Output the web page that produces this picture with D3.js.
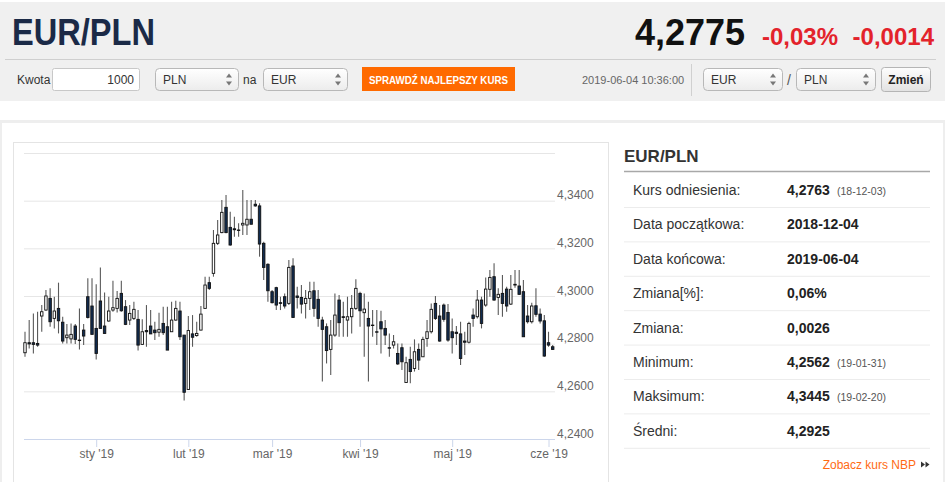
<!DOCTYPE html>
<html>
<head>
<meta charset="utf-8">
<script src="https://d3js.org/d3.v7.min.js"></script>
<style>
  body { margin: 0; background: #fff; }
  svg { display: block; font-family: "Liberation Sans", Arial, sans-serif; }
</style>
</head>
<body>
<svg id="page"></svg>
<script>
// trading days shown on the chart (ordinal axis, no weekends / holidays)
const dates = [
  "2018-12-04","2018-12-05","2018-12-06","2018-12-07","2018-12-10","2018-12-11","2018-12-12","2018-12-13","2018-12-14",
  "2018-12-17","2018-12-18","2018-12-19","2018-12-20","2018-12-21","2018-12-27","2018-12-28","2018-12-31",
  "2019-01-02","2019-01-03","2019-01-04","2019-01-07","2019-01-08","2019-01-09","2019-01-10","2019-01-11",
  "2019-01-14","2019-01-15","2019-01-16","2019-01-17","2019-01-18","2019-01-21","2019-01-22","2019-01-23",
  "2019-01-24","2019-01-25","2019-01-28","2019-01-29","2019-01-30","2019-01-31",
  "2019-02-01","2019-02-04","2019-02-05","2019-02-06","2019-02-07","2019-02-08","2019-02-11","2019-02-12",
  "2019-02-13","2019-02-14","2019-02-15","2019-02-18","2019-02-19","2019-02-20","2019-02-21","2019-02-22",
  "2019-02-25","2019-02-26","2019-02-27","2019-02-28",
  "2019-03-01","2019-03-04","2019-03-05","2019-03-06","2019-03-07","2019-03-08","2019-03-11","2019-03-12",
  "2019-03-13","2019-03-14","2019-03-15","2019-03-18","2019-03-19","2019-03-20","2019-03-21","2019-03-22",
  "2019-03-25","2019-03-26","2019-03-27","2019-03-28","2019-03-29",
  "2019-04-01","2019-04-02","2019-04-03","2019-04-04","2019-04-05","2019-04-08","2019-04-09","2019-04-10",
  "2019-04-11","2019-04-12","2019-04-15","2019-04-16","2019-04-17","2019-04-18","2019-04-19","2019-04-22",
  "2019-04-23","2019-04-24","2019-04-25","2019-04-26","2019-04-29","2019-04-30",
  "2019-05-01","2019-05-02","2019-05-03","2019-05-06","2019-05-07","2019-05-08","2019-05-09","2019-05-10",
  "2019-05-13","2019-05-14","2019-05-15","2019-05-16","2019-05-17","2019-05-20","2019-05-21","2019-05-22",
  "2019-05-23","2019-05-24","2019-05-27","2019-05-28","2019-05-29","2019-05-30","2019-05-31",
  "2019-06-03","2019-06-04"
];

const open = [
  4.2762,4.2804,4.2804,4.2801,4.2916,4.2941,4.2990,4.2906,4.2948,4.2890,4.2825,4.2820,4.2874,4.2815,4.2857,4.2997,4.2958,
  4.2864,4.2979,4.2874,4.2895,4.2941,4.2948,4.3011,4.2955,4.2899,4.2906,4.2902,4.2797,4.2855,4.2874,4.2857,4.2848,4.2885,
  4.2871,4.2850,4.2899,4.2937,4.2836,
  4.2608,4.2841,4.2834,4.2857,4.2948,4.3056,4.3095,4.3221,4.3266,4.3372,4.3288,4.3282,4.3277,4.3298,4.3298,4.3322,4.3385,
  4.3378,4.3221,4.3133,
  4.3018,4.3035,4.2972,4.2997,4.2969,4.3126,4.3000,4.2994,4.2969,4.2990,4.3022,4.2986,4.2899,4.2871,4.2776,4.2836,4.2983,
  4.2913,4.2899,4.2913,4.2948,
  4.3011,4.2930,4.2906,4.2878,4.2850,4.2892,4.2864,4.2783,4.2794,4.2759,4.2783,4.2637,4.2734,4.2696,4.2776,4.2745,4.2822,
  4.2850,4.2969,4.2916,4.2962,4.2931,
  4.2850,4.2848,4.2841,4.2811,4.2806,4.2920,4.2913,4.2983,4.2962,4.3028,4.3081,4.2994,4.3011,4.3029,4.2966,4.3049,4.3042,
  4.3018,4.2916,4.2892,4.2959,4.2924,4.2896,
  4.2804,4.2787
];

const high = [
  4.2850,4.2899,4.2927,4.2934,4.2962,4.3025,4.3032,4.2997,4.3056,4.2913,4.2883,4.2885,4.2883,4.2948,4.2883,4.3074,4.3074,
  4.3049,4.3120,4.3015,4.2997,4.3064,4.3021,4.3064,4.2983,4.2962,4.2976,4.2941,4.2902,4.2962,4.2941,4.2892,4.2930,4.2955,
  4.2955,4.2976,4.2980,4.2976,4.2836,
  4.2916,4.2920,4.2892,4.2958,4.3081,4.3081,4.3277,4.3319,4.3403,4.3424,4.3354,4.3333,4.3305,4.3445,4.3403,4.3403,4.3403,
  4.3389,4.3228,4.3137,
  4.3025,4.3039,4.2997,4.3011,4.3151,4.3158,4.3039,4.3046,4.3025,4.3060,4.3060,4.3025,4.2913,4.2885,4.2899,4.3011,4.3004,
  4.2976,4.2997,4.3004,4.3070,
  4.3018,4.3011,4.2976,4.2941,4.2941,4.2938,4.2899,4.2843,4.2836,4.2801,4.2801,4.2745,4.2787,4.2818,4.2801,4.2829,4.2899,
  4.2969,4.3000,4.2962,4.2969,4.2966,
  4.2906,4.2874,4.2892,4.2850,4.2892,4.2948,4.3025,4.2997,4.3078,4.3109,4.3137,4.3032,4.3088,4.3039,4.3088,4.3109,4.3109,
  4.3067,4.2962,4.2972,4.3032,4.2948,4.2920,
  4.2850,4.2794
];

const low = [
  4.2745,4.2780,4.2759,4.2787,4.2850,4.2938,4.2871,4.2864,4.2843,4.2801,4.2801,4.2801,4.2799,4.2776,4.2794,4.2906,4.2839,
  4.2734,4.2864,4.2843,4.2892,4.2934,4.2931,4.2934,4.2878,4.2878,4.2899,4.2771,4.2794,4.2787,4.2841,4.2815,4.2829,4.2836,
  4.2773,4.2850,4.2896,4.2815,4.2562,
  4.2606,4.2787,4.2829,4.2855,4.2948,4.3025,4.3081,4.3214,4.3263,4.3263,4.3211,4.3249,4.3249,4.3256,4.3256,4.3301,4.3375,
  4.3165,4.3067,4.2976,
  4.2969,4.2941,4.2941,4.2948,4.2962,4.2910,4.2948,4.2927,4.2906,4.2941,4.2913,4.2871,4.2641,4.2717,4.2669,4.2829,4.2829,
  4.2829,4.2829,4.2843,4.2941,
  4.2871,4.2745,4.2641,4.2829,4.2794,4.2759,4.2794,4.2745,4.2780,4.2710,4.2690,4.2637,4.2634,4.2683,4.2690,4.2745,4.2787,
  4.2843,4.2899,4.2808,4.2892,4.2808,
  4.2759,4.2794,4.2710,4.2752,4.2801,4.2871,4.2906,4.2864,4.2955,4.2997,4.2980,4.2920,4.2913,4.2934,4.2962,4.3035,4.3004,
  4.2829,4.2885,4.2885,4.2913,4.2885,4.2745,
  4.2787,4.2773
];

const close = [
  4.2804,4.2799,4.2797,4.2794,4.2934,4.3000,4.2892,4.2937,4.2896,4.2811,4.2836,4.2839,4.2818,4.2813,4.2832,4.2910,4.2839,
  4.2759,4.2864,4.2843,4.2937,4.2951,4.2990,4.2938,4.2881,4.2927,4.2944,4.2794,4.2850,4.2850,4.2841,4.2846,4.2860,4.2846,
  4.2773,4.2899,4.2948,4.2829,4.2596,
  4.2855,4.2827,4.2843,4.2924,4.3046,4.3032,4.3221,4.3256,4.3351,4.3266,4.3214,4.3278,4.3275,4.3305,4.3322,4.3301,4.3378,
  4.3218,4.3120,4.3022,
  4.2972,4.2962,4.2969,4.2958,4.3120,4.2910,4.2994,4.2966,4.2990,4.3018,4.2948,4.2906,4.2860,4.2771,4.2836,4.2920,4.2888,
  4.2910,4.2913,4.2948,4.3032,
  4.2938,4.2945,4.2874,4.2876,4.2848,4.2862,4.2836,4.2781,4.2808,4.2715,4.2724,4.2720,4.2683,4.2766,4.2731,4.2818,4.2850,
  4.2944,4.2906,4.2811,4.2902,4.2815,
  4.2825,4.2843,4.2738,4.2806,4.2885,4.2906,4.2983,4.2885,4.3029,4.3078,4.2983,4.3007,4.2969,4.2958,4.3028,4.3046,4.3007,
  4.2829,4.2892,4.2958,4.2923,4.2895,4.2748,
  4.2794,4.2776
];

const xTickDates = ["2019-01-02", "2019-02-01", "2019-03-01", "2019-04-01", "2019-05-01", "2019-06-03"];
const xTickLabels = ["sty '19", "lut '19", "mar '19", "kwi '19", "maj '19", "cze '19"];
const yTicks = [4.24, 4.26, 4.28, 4.30, 4.32, 4.34, 4.36];

const statLabels = ["Kurs odniesienia:", "Data początkowa:", "Data końcowa:", "Zmiana[%]:", "Zmiana:", "Minimum:", "Maksimum:", "Średni:"];
const statValues = ["4,2763", "2018-12-04", "2019-06-04", "0,06%", "0,0026", "4,2562", "4,3445", "4,2925"];
const statNotes = ["(18-12-03)", "", "", "", "", "(19-01-31)", "(19-02-20)", ""];

const pairName = "EUR/PLN";
const lastRate = "4,2775";
const changePct = "-0,03%";
const changeAbs = "-0,0014";
const quoteTime = "2019-06-04 10:36:00";

const FONT = '"Liberation Sans", Arial, sans-serif';

const svg = d3.select('#page').attr('width', 945).attr('height', 482);

const defs = svg.append('defs');
const selGrad = defs.append('linearGradient').attr('id', 'selGrad').attr('x1', 0).attr('x2', 0).attr('y1', 0).attr('y2', 1);
selGrad.append('stop').attr('offset', '0%').attr('stop-color', '#ffffff');
selGrad.append('stop').attr('offset', '100%').attr('stop-color', '#ececec');
const btnGrad = defs.append('linearGradient').attr('id', 'btnGrad').attr('x1', 0).attr('x2', 0).attr('y1', 0).attr('y2', 1);
btnGrad.append('stop').attr('offset', '0%').attr('stop-color', '#fdfdfd');
btnGrad.append('stop').attr('offset', '100%').attr('stop-color', '#e2e2e2');

// ---------- header band ----------
const head = svg.append('g');
head.append('rect').attr('x', 0).attr('y', 2).attr('width', 945).attr('height', 99).attr('fill', '#f0f0f0');

head.append('text')
  .attr('x', 12).attr('y', 45)
  .attr('textLength', 143).attr('lengthAdjust', 'spacingAndGlyphs')
  .style('font-size', '36px').style('font-weight', 'bold').attr('fill', '#1b2a47')
  .text(pairName);

head.append('text')
  .attr('x', 745).attr('y', 45).attr('text-anchor', 'end')
  .style('font-size', '36px').style('font-weight', 'bold').attr('fill', '#111')
  .text(lastRate);

head.append('text')
  .attr('x', 838).attr('y', 45).attr('text-anchor', 'end')
  .style('font-size', '24px').style('font-weight', 'bold').attr('fill', '#e3232b')
  .text(changePct);

head.append('text')
  .attr('x', 934).attr('y', 45).attr('text-anchor', 'end')
  .style('font-size', '24px').style('font-weight', 'bold').attr('fill', '#e3232b')
  .text(changeAbs);

head.append('line')
  .attr('x1', 5).attr('x2', 936).attr('y1', 59.5).attr('y2', 59.5)
  .attr('stroke', '#cfcfcf');

function label(g, x, txt, opts = {}) {
  return g.append('text')
    .attr('x', x).attr('y', opts.y || 84)
    .attr('text-anchor', opts.anchor || 'start')
    .style('font-size', (opts.size || 12) + 'px')
    .style('font-weight', opts.bold ? 'bold' : 'normal')
    .attr('fill', opts.color || '#333')
    .text(txt);
}

function selectBox(g, x, w, txt) {
  g.append('rect')
    .attr('x', x + 0.5).attr('y', 68.5).attr('width', w).attr('height', 22).attr('rx', 4)
    .attr('fill', 'url(#selGrad)').attr('stroke', '#b8b8b8');
  label(g, x + 8, txt);
  g.append('path')
    .attr('d', `M${x + w - 12},77.5 l3,-4 l3,4z M${x + w - 12},81.5 l3,4 l3,-4z`)
    .attr('fill', '#777');
}

label(head, 17, 'Kwota');
head.append('rect')
  .attr('x', 52.5).attr('y', 68.5).attr('width', 87).attr('height', 22).attr('rx', 2)
  .attr('fill', '#fff').attr('stroke', '#c8c8c8');
label(head, 134, '1000', { anchor: 'end' });

selectBox(head, 155, 83, 'PLN');
label(head, 243, 'na');
selectBox(head, 263, 84, 'EUR');

head.append('rect')
  .attr('x', 362).attr('y', 67).attr('width', 153).attr('height', 24)
  .attr('fill', '#ff6a00');
head.append('text')
  .attr('x', 369).attr('y', 83.5)
  .attr('textLength', 139).attr('lengthAdjust', 'spacingAndGlyphs')
  .style('font-size', '10px').style('font-weight', 'bold').attr('fill', '#fff')
  .text('SPRAWDŹ NAJLEPSZY KURS');

label(head, 582, quoteTime, { size: 11, color: '#666', y: 83.5 });
head.append('line')
  .attr('x1', 691.5).attr('x2', 691.5).attr('y1', 64).attr('y2', 96)
  .attr('stroke', '#d0d0d0');

selectBox(head, 703, 79, 'EUR');
label(head, 787, '/', { size: 14, color: '#555', y: 85 });
selectBox(head, 796, 79, 'PLN');

head.append('rect')
  .attr('x', 881.5).attr('y', 67.5).attr('width', 49).attr('height', 24).attr('rx', 3)
  .attr('fill', 'url(#btnGrad)').attr('stroke', '#b5b5b5');
label(head, 906, 'Zmień', { anchor: 'middle', bold: true, color: '#222' });

// ---------- content frame ----------
svg.append('rect').attr('x', 0).attr('y', 120).attr('width', 945).attr('height', 3).attr('fill', '#eeeeee');
svg.append('rect').attr('x', 0).attr('y', 120).attr('width', 2).attr('height', 362).attr('fill', '#eeeeee');
svg.append('rect').attr('x', 943).attr('y', 120).attr('width', 2).attr('height', 362).attr('fill', '#eeeeee');

svg.append('rect')
  .attr('x', 13.5).attr('y', 142.5).attr('width', 595).attr('height', 400)
  .attr('fill', '#fff').attr('stroke', '#e4e4e4');

// ---------- candlestick chart ----------
class CandleChart {
  constructor(_config) {
    this.config = {
      parent: _config.parent,
      left: 24, right: 555, top: 153, bottom: 439,
      firstX: 25, lastX: 552.7
    };
    this.data = dates.map((d, i) => ({ date: d, o: open[i], h: high[i], l: low[i], c: close[i] }));
    this.initVis();
  }

  initVis() {
    let vis = this;
    const cfg = vis.config;

    vis.x = d3.scalePoint().domain(dates).range([cfg.firstX, cfg.lastX]);
    vis.y = d3.scaleLinear().domain([4.24, 4.36]).range([cfg.bottom, cfg.top]);

    vis.g = cfg.parent.append('g').attr('class', 'chart');

    // horizontal grid + right labels
    vis.g.append('g')
      .attr('class', 'y-axis')
      .attr('transform', `translate(${cfg.right},0)`)
      .call(d3.axisRight(vis.y)
        .tickValues(yTicks)
        .tickSize(-(cfg.right - cfg.left))
        .tickPadding(2)
        .tickFormat(d => d3.format('.4f')(d).replace('.', ',')))
      .call(g => g.select('.domain').remove())
      .call(g => g.selectAll('.tick line').attr('stroke', '#e6e6e6'))
      .call(g => g.selectAll('.tick text')
        .attr('y', -2).attr('dy', 0)
        .attr('fill', '#666')
        .attr('font-family', FONT)
        .style('font-size', '12px')
        .filter(d => d === yTicks[yTicks.length - 1]).remove());

    // bottom axis
    vis.g.append('g')
      .attr('class', 'x-axis')
      .attr('transform', `translate(0,${cfg.bottom})`)
      .call(d3.axisBottom(vis.x)
        .tickValues(xTickDates)
        .tickSize(8)
        .tickPadding(2)
        .tickFormat((d, i) => xTickLabels[i]))
      .call(g => g.select('.domain').remove())
      .call(g => g.selectAll('.tick line').attr('stroke', '#ccd6eb'))
      .call(g => g.selectAll('.tick text')
        .attr('fill', '#666')
        .attr('font-family', FONT)
        .style('font-size', '12px'));

    vis.g.append('line')
      .attr('x1', cfg.left).attr('x2', cfg.right)
      .attr('y1', cfg.bottom + 0.5).attr('y2', cfg.bottom + 0.5)
      .attr('stroke', '#ccd6eb');

    vis.updateVis();
  }

  updateVis() {
    let vis = this;
    const bodyW = vis.x.step() * 0.58;

    vis.g.append('g').attr('class', 'wicks')
      .selectAll('line')
      .data(vis.data)
      .join('line')
      .attr('x1', d => vis.x(d.date))
      .attr('x2', d => vis.x(d.date))
      .attr('y1', d => vis.y(d.h))
      .attr('y2', d => vis.y(d.l))
      .attr('stroke', '#5a5a5a')
      .attr('stroke-width', 1.1);

    vis.g.append('g').attr('class', 'bodies')
      .selectAll('rect')
      .data(vis.data)
      .join('rect')
      .attr('x', d => vis.x(d.date) - bodyW / 2)
      .attr('width', bodyW)
      .attr('y', d => vis.y(Math.max(d.o, d.c)))
      .attr('height', d => Math.max(0.3, Math.abs(vis.y(d.o) - vis.y(d.c))))
      .attr('fill', d => d.c >= d.o ? '#ffffff' : '#112c50')
      .attr('stroke', '#111')
      .attr('stroke-width', 0.9);
  }
}

new CandleChart({ parent: svg });

// ---------- statistics panel ----------
const side = svg.append('g').attr('class', 'stats');
side.append('text')
  .attr('x', 624).attr('y', 162)
  .style('font-size', '17px').style('font-weight', 'bold').attr('fill', '#333')
  .text(pairName);
side.append('line')
  .attr('x1', 624).attr('x2', 930).attr('y1', 171.5).attr('y2', 171.5)
  .attr('stroke', '#a8a8a8').attr('stroke-width', 1.6);

const rowH = 34.4;
const rows = side.selectAll('g.row')
  .data(statLabels)
  .join('g')
  .attr('class', 'row')
  .attr('transform', (d, i) => `translate(0,${190 + i * rowH})`);

rows.append('text')
  .attr('x', 633).attr('y', 5)
  .style('font-size', '14px').attr('fill', '#333')
  .text(d => d);
rows.append('text')
  .attr('x', 787).attr('y', 5)
  .style('font-size', '14px').style('font-weight', 'bold').attr('fill', '#222')
  .text((d, i) => statValues[i]);
rows.append('text')
  .attr('x', 837).attr('y', 4.5)
  .style('font-size', '10.5px').attr('fill', '#555')
  .text((d, i) => statNotes[i]);
rows.append('line')
  .attr('x1', 624).attr('x2', 930).attr('y1', 17.5).attr('y2', 17.5)
  .attr('stroke', '#ececec');

side.append('text')
  .attr('x', 916).attr('y', 469).attr('text-anchor', 'end')
  .style('font-size', '12px').attr('fill', '#ff6a13')
  .text('Zobacz kurs NBP');
side.append('path')
  .attr('d', 'M921,461.5 l4,3 l-4,3z M925.5,461.5 l4,3 l-4,3z')
  .attr('fill', '#333');
</script>
</body>
</html>
